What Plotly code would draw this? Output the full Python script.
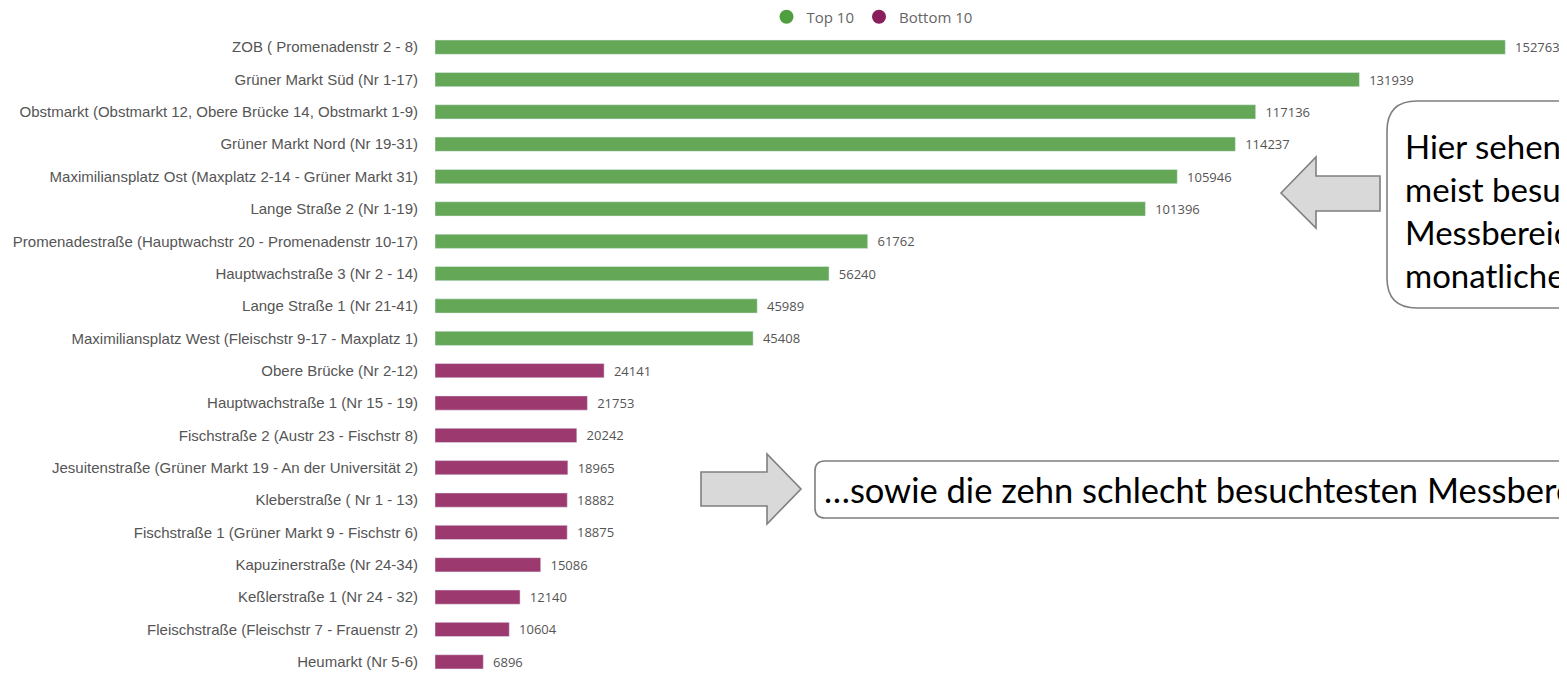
import plotly.graph_objects as go

top_labels = [
    "ZOB ( Promenadenstr 2 - 8)",
    "Grüner Markt Süd (Nr 1-17)",
    "Obstmarkt (Obstmarkt 12, Obere Brücke 14, Obstmarkt 1-9)",
    "Grüner Markt Nord (Nr 19-31)",
    "Maximiliansplatz Ost (Maxplatz 2-14 - Grüner Markt 31)",
    "Lange Straße 2 (Nr 1-19)",
    "Promenadestraße (Hauptwachstr 20 - Promenadenstr 10-17)",
    "Hauptwachstraße 3 (Nr 2 - 14)",
    "Lange Straße 1 (Nr 21-41)",
    "Maximiliansplatz West (Fleischstr 9-17 - Maxplatz 1)",
]
top_values = [152763, 131939, 117136, 114237, 105946, 101396, 61762, 56240, 45989, 45408]

bottom_labels = [
    "Obere Brücke (Nr 2-12)",
    "Hauptwachstraße 1 (Nr 15 - 19)",
    "Fischstraße 2 (Austr 23 - Fischstr 8)",
    "Jesuitenstraße (Grüner Markt 19 - An der Universität 2)",
    "Kleberstraße ( Nr 1 - 13)",
    "Fischstraße 1 (Grüner Markt 9 - Fischstr 6)",
    "Kapuzinerstraße (Nr 24-34)",
    "Keßlerstraße 1 (Nr 24 - 32)",
    "Fleischstraße (Fleischstr 7 - Frauenstr 2)",
    "Heumarkt (Nr 5-6)",
]
bottom_values = [24141, 21753, 20242, 18965, 18882, 18875, 15086, 12140, 10604, 6896]

series_names = ["Top 10", "Bottom 10"]
callout_top_lines = ["Hier sehen Sie die zehn", "meist besuchten", "Messbereiche mit ihren",
                     "monatlichen Besucherzahlen"]
callout_bottom = "…sowie die zehn schlecht besuchtesten Messbereiche."

GREEN = "#63a757"
PURPLE = "#9c3a70"
GREEN_LEG = "#4f9f3f"
PURPLE_LEG = "#8a1d5c"

# page has an 8px body margin; the figure is laid out in reference-page pixels
OFF = 8
W, H = 1567 - OFF, 700 - OFF
ML, MR, MT, MB = 435 - OFF, 11, 31 - OFF, 22
PW, PH = W - ML - MR, H - MT - MB


def px(x):
    return (x - OFF - ML) / PW


def py(y):
    return (H - MB - (y - OFF)) / PH


fig = go.Figure()
val_font = dict(family="Open Sans, sans-serif", size=13, color="#555555")
fig.add_trace(go.Bar(
    x=top_values, y=top_labels, orientation="h", marker_color=GREEN,
    text=[str(v) for v in top_values], texttemplate="  %{text}", textposition="outside",
    cliponaxis=False, constraintext="none",
    textfont=val_font, showlegend=False, name=series_names[0], hoverinfo="x+y"))
fig.add_trace(go.Bar(
    x=bottom_values, y=bottom_labels, orientation="h", marker_color=PURPLE,
    text=[str(v) for v in bottom_values], texttemplate="  %{text}", textposition="outside",
    cliponaxis=False, constraintext="none",
    textfont=val_font, showlegend=False, name=series_names[1], hoverinfo="x+y"))
# legend entries with round markers
for name, col in zip(series_names, [GREEN_LEG, PURPLE_LEG]):
    fig.add_trace(go.Scatter(x=[None], y=[None], mode="markers", name=name,
                             marker=dict(symbol="circle", size=14, color=col)))


def rounded_path(x0, y0, x1, y1, r):
    X = lambda v: f"{px(v):.5f}"
    Y = lambda v: f"{py(v):.5f}"
    pts = [
        f"M {X(x0 + r)},{Y(y0)}",
        f"L {X(x1 - r)},{Y(y0)}",
        f"Q {X(x1)},{Y(y0)} {X(x1)},{Y(y0 + r)}",
        f"L {X(x1)},{Y(y1 - r)}",
        f"Q {X(x1)},{Y(y1)} {X(x1 - r)},{Y(y1)}",
        f"L {X(x0 + r)},{Y(y1)}",
        f"Q {X(x0)},{Y(y1)} {X(x0)},{Y(y1 - r)}",
        f"L {X(x0)},{Y(y0 + r)}",
        f"Q {X(x0)},{Y(y0)} {X(x0 + r)},{Y(y0)}",
        "Z",
    ]
    return " ".join(pts)


def poly_path(points):
    return "M " + " L ".join(f"{px(x):.5f},{py(y):.5f}" for x, y in points) + " Z"


shapes = []
line_grey = dict(color="#7f7f7f", width=1.6)
shapes.append(dict(type="path", xref="paper", yref="paper", path=rounded_path(1387, 101, 1760, 308, 30),
                   line=line_grey, fillcolor="white", layer="above"))
shapes.append(dict(type="path", xref="paper", yref="paper", path=rounded_path(815, 461, 1760, 518, 10),
                   line=line_grey, fillcolor="white", layer="above"))
shapes.append(dict(type="path", xref="paper", yref="paper",
                   path=poly_path([(1281, 193), (1316, 157), (1316, 176), (1380, 176), (1380, 211),
                                   (1316, 211), (1316, 228)]),
                   line=line_grey, fillcolor="#d9d9d9", layer="above"))
shapes.append(dict(type="path", xref="paper", yref="paper",
                   path=poly_path([(701, 472), (767, 472), (767, 454), (801, 489), (767, 524),
                                   (767, 506), (701, 506)]),
                   line=line_grey, fillcolor="#d9d9d9", layer="above"))

annotations = []
for i, line in enumerate(callout_top_lines):
    annotations.append(dict(xref="paper", yref="paper", x=px(1403), y=py(146 + 43 * i),
                            xanchor="left", yanchor="middle", text=line, showarrow=False,
                            align="left", font=dict(family="Lato, sans-serif", size=33, color="#000000")))
annotations.append(dict(xref="paper", yref="paper", x=px(822), y=py(490), xanchor="left",
                        yanchor="middle", text=callout_bottom, showarrow=False, align="left",
                        font=dict(family="Lato, sans-serif", size=34.5, color="#000000")))

fig.update_layout(
    width=W, height=H,
    margin=dict(l=ML, r=MR, t=MT, b=MB, autoexpand=False),
    plot_bgcolor="white", paper_bgcolor="white",
    barmode="relative", bargap=0.56,
    shapes=shapes, annotations=annotations,
    legend=dict(orientation="h", x=px(872), xanchor="center", y=py(17), yanchor="middle",
                font=dict(family="Open Sans, sans-serif", size=15, color="#666666"),
                itemwidth=30, tracegroupgap=0, bgcolor="rgba(0,0,0,0)"),
    xaxis=dict(range=[0, 160000], visible=False, showgrid=False, zeroline=False),
    yaxis=dict(autorange="reversed", showgrid=False, zeroline=False, showline=False,
               ticks="", ticklabelstandoff=16,
               tickfont=dict(family="Liberation Sans, Arial, sans-serif", size=15, color="#555555")),
)

fig.write_html("out.html")
